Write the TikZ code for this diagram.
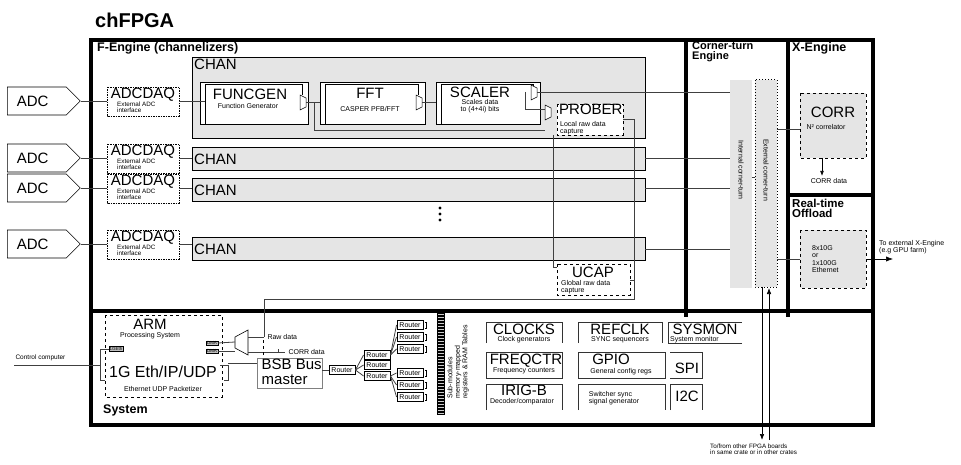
\documentclass[tikz,border=0pt]{standalone}
\usepackage{fontspec}
\setmainfont{Liberation Sans}
\usetikzlibrary{arrows.meta,shapes.geometric,shapes.symbols}
\begin{document}
\begin{tikzpicture}[x=1pt,y=-1pt,
  big/.style={font=\fontsize{15}{15}\selectfont},
  sm/.style={font=\fontsize{7}{7.5}\selectfont},
  hd/.style={font=\fontsize{12.5}{12}\selectfont\bfseries, anchor=north west, inner sep=0},
  frame/.style={line width=4.5pt},
  dbox/.style={draw, dashed, line width=0.4pt},
  gbox/.style={draw, fill=gray!20, line width=0.9pt},
  wbox/.style={draw, line width=0.6pt, fill=white},
  ln/.style={line width=0.8pt, draw=black!75},
  rt/.style={draw, line width=0.9pt, fill=white, inner sep=1pt, minimum width=26pt, minimum height=9pt, font=\fontsize{7}{7}\selectfont},
  adc/.style={draw, line width=0.6pt, fill=white, signal, signal to=east, minimum width=73pt, minimum height=28pt, big, inner sep=2pt, text width=40pt}
]
\useasboundingbox (0,0) rectangle (961,465);
\node[anchor=west, inner sep=0, font=\fontsize{20}{20}\selectfont\bfseries] (title) at (95,20) {chFPGA};
% frames
\draw[frame] (91,40) rectangle (873,425);
\draw[frame] (91,311) -- (873,311);
\draw[frame] (686,40) -- (686,317);
\draw[frame] (788,40) -- (788,317);
\draw[frame] (788,195) -- (873,195);
\node[hd] (fe) at (97,42) {F-Engine (channelizers)};
\node[hd, font=\fontsize{11}{10}\selectfont\bfseries, align=left] (cte) at (692,42) {Corner-turn\\Engine};
\node[hd] (xe) at (792,42) {X-Engine};
\node[hd, font=\fontsize{11.5}{10}\selectfont\bfseries, align=left] (rto) at (792,199) {Real-time\\Offload};
\node[hd] (sys) at (103,405) {System};

% CHAN big
\draw[gbox] (192,57) rectangle (645,138);
\node[big, anchor=north west, inner sep=1pt] (chan1) at (193,58) {CHAN};
\foreach \y/\n in {147/2,178/3,237/4}{
  \draw[gbox] (192,\y) rectangle (645,\y+23);
  \node[big, anchor=west, inner sep=1pt] (chan\n) at (193,\y+12) {CHAN};
}
% blocks
\draw[wbox] (200,82) rectangle (308,124);
\draw[line width=0.5pt] (205,124) -- (205,84) -- (302,84) -- (302,95);
\node[big, anchor=north] (funcgen) at (250,85) {FUNCGEN};
\node[sm] (fgs) at (248,106) {Function Generator};
\draw[wbox] (320,82) rectangle (425,124);
\draw[line width=0.5pt] (325,124) -- (325,84) -- (418,84) -- (418,95);
\node[big, anchor=north] (fft) at (370,85) {FFT};
\node[sm] (ffts) at (370,109) {CASPER PFB/FFT};
\draw[wbox] (436,82) rectangle (540,124);
\draw[line width=0.5pt] (441,124) -- (441,84) -- (533,84) -- (533,95);
\node[big, anchor=north] (scaler) at (480,83) {SCALER};
\node[sm, align=center] (scs) at (480,106) {Scales data\\to (4+4i) bits};
% mux symbols
\foreach \x/\y/\nm in {300/95/m1,416/95/m2,531/85/m3,545/105/m4}{
  \draw[line width=0.5pt, fill=white] (\x,\y) -- (\x+6,\y+3) -- (\x+6,\y+12) -- (\x,\y+15) -- cycle;
  \coordinate (\nm) at (\x+6,\y+7.5);
}
\draw[ln] (m1) -- (320,102.5);
\draw[ln] (m2) -- (436,102.5);
\draw[ln] (314,102.5) -- (314,130) -- (545,130);
\draw[ln] (m3) -- (730,92.5);
\draw[ln] (525,92) -- (525,109) -- (545,109);
% PROBER & UCAP
\draw[dbox, fill=white] (557,104) rectangle (623,135);
\node[big, anchor=north west, inner sep=1pt] (prober) at (558,103) {PROBER};
\node[sm, align=left, anchor=north west, inner sep=1pt] (pbs) at (559,120) {Local raw data\\capture};
\draw[dbox, fill=white] (557,264) rectangle (630,295);
\node[big, anchor=north] (ucap) at (593,263) {UCAP};
\node[sm, align=left, anchor=north west, inner sep=1pt] (ucs) at (560,279) {Global raw data\\capture};
\draw[ln] (553,135) -- (553,267) -- (557,267);
\draw[ln] (623,119) -- (634,119) -- (634,299) -- (264,299) -- (264,337);
\draw[ln] (630,280) -- (634,280);
% dots
\foreach \y in {208,214,220} \fill (440,\y) circle (1.6pt);
% ADCs
\foreach \y/\n in {101/1,158/2,188/3,244/4}{
  \node[adc, anchor=west] (adc\n) at (7,\y) {ADC};
  \draw[dbox, dash pattern=on 1.5pt off 1pt] (107,\y-14) rectangle (179,\y+15);
  \node[big, anchor=north, inner sep=0] (daq\n) at (143,\y-13) {ADCDAQ};
  \node[sm, align=left, anchor=north west, inner sep=0, font=\fontsize{6.3}{6}\selectfont] (daqs\n) at (117,\y+0.5) {External ADC\\interface};
  \draw[ln] (adc\n.east) -- (107,\y);
}
\draw[ln] (179,101) -- (205,101);
\foreach \y in {158,188,244} \draw[ln] (179,\y) -- (192,\y);
% corner turn
\draw[draw=none, fill=gray!20] (730,80) rectangle (752,288);
\draw[dotted, line width=1pt, fill=gray!20] (755,80) rectangle (777,287);
\node[sm, rotate=-90] (ict) at (741,170) {Internal corner-turn};
\node[sm, rotate=-90] (ect) at (766,170) {External corner-turn};
\draw[ln] (752,177) -- (755,177);
\foreach \y in {158,188,249} \draw[ln] (645,\y) -- (730,\y);
% X engine
\draw[dbox, fill=gray!20] (800,93) rectangle (866,158);
\node[big, anchor=north] (corr) at (833,103) {CORR};
\node[sm, anchor=west] (n2) at (803,127) {N² correlator};
\draw[ln] (777,129) -- (800,129);
\draw[-{Latex[length=5pt]}, line width=0.6pt] (822,158) -- (822,176);
\node[sm] (corrd) at (829,181) {CORR data};
\draw[dbox, fill=gray!20] (800,230) rectangle (866,288);
\node[sm, align=left, anchor=north west, inner sep=0] (eth) at (812,245) {8x10G\\or\\1x100G\\Ethernet};
\draw[ln] (777,259) -- (800,259);
\draw[-{Latex[length=7pt]}, line width=0.6pt] (866,259) -- (893,259);
\node[sm, align=left, anchor=west, inner sep=0] (ext) at (879,247) {To external X-Engine\\(e.g GPU farm)};
% external links
\draw[line width=0.6pt, -{Latex[length=6pt]}] (762,287) -- (762,440);
\draw[line width=0.6pt, -{Latex[length=6pt]}] (769,440) -- (769,288);
\node[sm, align=left, anchor=north west, inner sep=0, font=\fontsize{6.3}{6}\selectfont] (tofrom) at (710,444) {To/from other FPGA boards\\in same crate or in other crates};

% System
\draw[dbox] (105,315) rectangle (222,397);
\node[big, anchor=north] (arm) at (150,316) {ARM};
\node[sm] (ps) at (150,336) {Processing System};
\node[draw, fill=gray!50, inner sep=0.7pt, font=\fontsize{4.5}{4.5}\selectfont] (geth) at (116,349) {1GEth};
\node[draw, fill=gray!50, inner sep=0.7pt, font=\fontsize{4.5}{4.5}\selectfont] (dma1) at (212,343) {DMA};
\node[draw, fill=gray!50, inner sep=0.7pt, font=\fontsize{4.5}{4.5}\selectfont] (dma2) at (212,351) {DMA};
\node[big, font=\fontsize{16}{16}\selectfont] (udp) at (163,372) {1G Eth/IP/UDP};
\node[sm] (udps) at (163,389) {Ethernet UDP Packetizer};
\draw[ln] (geth.west) -- (100,349) -- (100,380) -- (105,380);
\draw[ln] (220,365) -- (228,365) -- (228,380) -- (224,380);
\node[sm, anchor=west, font=\fontsize{6.5}{6.5}\selectfont] (cc) at (12,358) {Control computer};
\draw[ln] (14,365) -- (100,365);
\draw[line width=0.6pt, fill=white] (235,337) -- (248,330) -- (248,355) -- (235,348) -- cycle;
\draw[ln] (dma1.east) -- (235,342);
\draw[ln] (dma2.east) -- (235,351);
\draw[ln] (248,337) -- (264,337);
\node[sm, anchor=west] (raw) at (264,337) {Raw data};
\draw[ln] (248,352) -- (285,352);
\draw[ln] (278,349) -- (278,352);
\node[sm, anchor=west] (corrd2) at (285,352) {CORR data};
\draw[dashed, line width=0.5pt] (263,340) -- (263,358);
\draw[line width=0.4pt, draw=gray, fill=white] (257,358) rectangle (322,388);
\node[big, align=left, anchor=north west, inner sep=0.5pt, font=\fontsize{15}{14.5}\selectfont] (bsb) at (261,358.5) {BSB Bus\\master};
\draw[ln] (228,363) -- (257,363);
% routers
\node[rt] (r0) at (342,370) {Router};
\draw[ln] (322,370) -- (r0.west);
\foreach \y/\n in {355/a,365/b,376/c} \node[rt] (r\n) at (377,\y) {Router};
\foreach \n in {a,b,c} \draw[ln] (r0.east) -- (r\n.west);
\foreach \y/\n/\p in {325/a1/a,337/a2/a,349/a3/a,373/c1/c,385/c2/c,397/c3/c}{
  \node[rt] (r\n) at (410,\y) {Router};
  \draw[ln] (r\p.east) -- (r\n.west);
  \draw[line width=0.4pt] (r\n.east) ++(2,-3) -- ++(1,0) -- ++(0,6) -- ++(-1,0);
}
\foreach \i in {0,...,33} \draw[line width=0.3pt, fill=gray!40] (437,313+3*\i) rectangle (444,315+3*\i);
\node[sm, align=left, rotate=90, anchor=north, inner sep=0] (subm) at (447,362) {Sub-modules\\memory-mapped\\registers \& RAM Tables};
% right system blocks
\tikzset{sb/.style={draw=black!80, line width=0.5pt}}
\draw[sb] (486,343) -- (486,322) -- (562,322) -- (562,343);
\node[big, anchor=north] (clk) at (524,320) {CLOCKS};
\node[sm] (clks) at (524,340) {Clock generators};
\draw[sb] (578,343) -- (578,322) -- (662,322) -- (662,343);
\node[big, anchor=north] (ref) at (620,320) {REFCLK};
\node[sm] (refs) at (620,340) {SYNC sequencers};
\draw[sb] (742,343) -- (668,343) -- (668,322) -- (742,322);
\node[big, anchor=north] (sysmon) at (705,320) {SYSMON};
\node[sm, anchor=west, inner sep=0] (sysms) at (670,340) {System monitor};
\draw[sb] (486,378) -- (486,352) -- (562,352) -- (562,378) -- cycle;
\node[big, anchor=north] (freq) at (526,350) {FREQCTR};
\node[sm] (freqs) at (524,371) {Frequency counters};
\draw[sb] (578,378) -- (578,352) -- (665,352) -- (665,378) -- cycle;
\node[big, anchor=north] (gpio) at (611,350) {GPIO};
\node[sm] (gpios) at (621,372) {General config regs};
\draw[sb] (670,352) -- (702,352) -- (702,378) -- (670,378);
\node[big] (spi) at (687,368) {SPI};
\draw[sb] (486,410) -- (486,384) -- (562,384) -- (562,410);
\node[big, anchor=north] (irig) at (524,381) {IRIG-B};
\node[sm] (irigs) at (522,402) {Decoder/comparator};
\draw[sb] (578,410) -- (578,384) -- (665,384) -- (665,410);
\node[sm, align=left] (sw) at (614,398) {Switcher sync\\signal generator};
\draw[sb] (670,410) -- (670,384) -- (702,384) -- (702,410);
\node[big] (i2c) at (687,396) {I2C};
\end{tikzpicture}
\end{document}
